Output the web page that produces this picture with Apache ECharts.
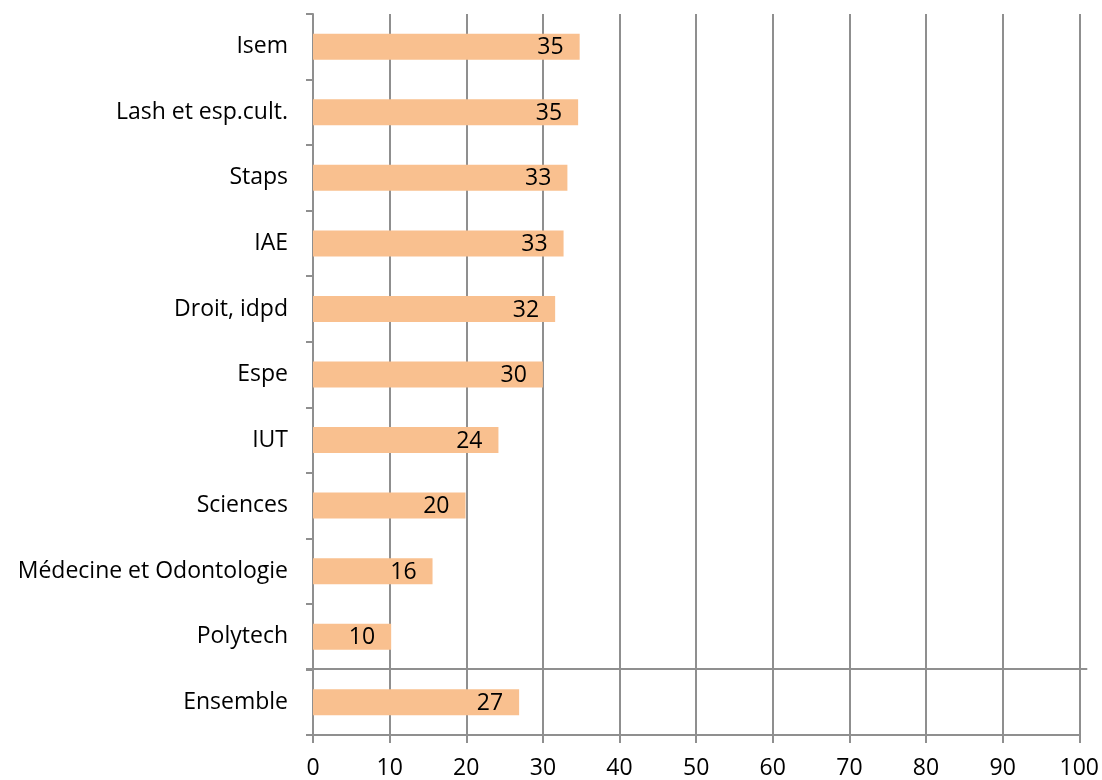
<!DOCTYPE html>
<html>
<head>
<meta charset="utf-8">
<script src="https://cdn.jsdelivr.net/npm/echarts@6/dist/echarts.min.js"></script>
<style>
  html, body { margin: 0; padding: 0; background: #ffffff; }
  #chart { width: 1102px; height: 780px; }
</style>
</head>
<body>
<div id="chart"></div>
<script>
// Categories from bottom to top (category axis runs upward)
const categories = [
  'Ensemble', 'Polytech', 'Médecine et Odontologie', 'Sciences', 'IUT',
  'Espe', 'Droit, idpd', 'IAE', 'Staps', 'Lash et esp.cult.', 'Isem'
];
const values = [26.9, 10.2, 15.6, 19.9, 24.2, 30.0, 31.6, 32.7, 33.2, 34.6, 34.8];
const xTicks = { min: 0, max: 100, interval: 10 };

const gridColor = '#8f8f8f';
const barColor = '#F9C08F';
const fontFamily = '"Open Sans", Lato, sans-serif';
const fontSize = 23;

const chart = echarts.init(document.getElementById('chart'), null, { renderer: 'canvas' });

chart.setOption({
  animation: false,
  backgroundColor: '#ffffff',
  grid: { left: 313, right: 21, top: 14, bottom: 44, containLabel: false },
  xAxis: {
    type: 'value',
    min: xTicks.min,
    max: xTicks.max,
    interval: xTicks.interval,
    axisLine: { show: true, lineStyle: { color: gridColor, width: 2 } },
    axisTick: { show: true, length: 8, lineStyle: { color: gridColor, width: 2 } },
    splitLine: { show: true, lineStyle: { color: gridColor, width: 2 } },
    axisLabel: { color: '#000', fontSize: fontSize, fontFamily: fontFamily, margin: 22 }
  },
  yAxis: {
    type: 'category',
    data: categories,
    axisLine: { show: true, lineStyle: { color: gridColor, width: 2 } },
    axisTick: { show: true, length: 7, lineStyle: { color: gridColor, width: 2 } },
    axisLabel: { color: '#000', fontSize: fontSize, fontFamily: fontFamily, margin: 25 },
    splitLine: { show: false }
  },
  series: [{
    type: 'bar',
    data: values,
    barWidth: 26,
    itemStyle: { color: barColor },
    label: {
      show: true,
      position: 'insideRight',
      distance: 16,
      offset: [0, 1],
      color: '#000',
      fontSize: fontSize,
      fontFamily: fontFamily,
      formatter: p => Math.round(p.value)
    }
  }]
});

// Separator between the overall row and the individual components
function drawSeparator() {
  const yA = chart.convertToPixel({ yAxisIndex: 0 }, categories[0]);
  const yB = chart.convertToPixel({ yAxisIndex: 0 }, categories[1]);
  const y = Math.round((yA + yB) / 2);
  const x0 = chart.convertToPixel({ xAxisIndex: 0 }, xTicks.min) - 7;
  const x1 = chart.convertToPixel({ xAxisIndex: 0 }, xTicks.max) + 8;
  chart.setOption({
    graphic: [{
      type: 'line',
      shape: { x1: x0, y1: y, x2: x1, y2: y },
      style: { stroke: gridColor, lineWidth: 2 },
      z: 5
    }]
  });
}
drawSeparator();
</script>
</body>
</html>
